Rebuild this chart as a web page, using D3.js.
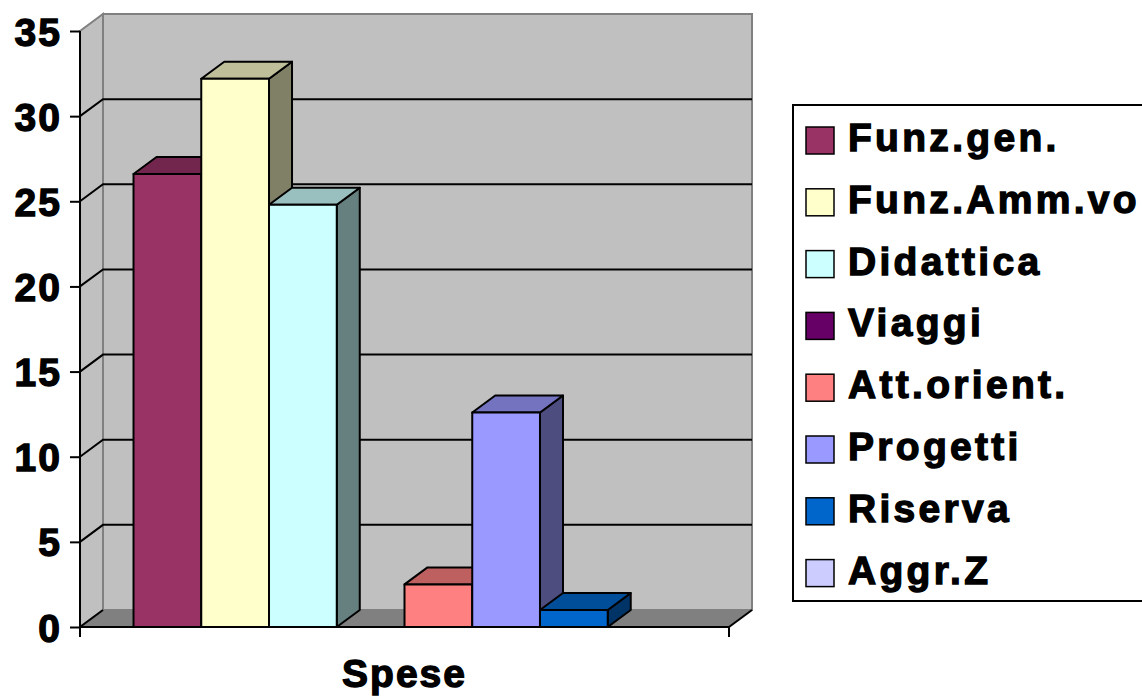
<!DOCTYPE html>
<html>
<head>
<meta charset="utf-8">
<script src="https://cdn.jsdelivr.net/npm/d3@7"></script>
<style>
  body { margin: 0; background: #fff; }
  text { font-family: "Liberation Sans", Arial, sans-serif; font-weight: bold; stroke: #000; stroke-width: 1.3px; }
</style>
</head>
<body>
<div id="chart"></div>
<script>
const categories = ["Funz.gen.", "Funz.Amm.vo", "Didattica", "Viaggi", "Att.orient.", "Progetti", "Riserva", "Aggr.Z"];
const values = [26.6, 32.2, 24.8, 0, 2.5, 12.6, 1.0, 0];
const colors = ["#993366", "#FFFFCC", "#CCFFFF", "#660066", "#FF8080", "#9999FF", "#0066CC", "#CCCCFF"];
const yTicks = [0, 5, 10, 15, 20, 25, 30, 35];
const groupLabel = "Spese";

const W = 1142, H = 697;
const dx = 23, dy = -17; // depth offset of the 3D box

const svg = d3.select("#chart").append("svg")
  .attr("width", W)
  .attr("height", H);

const y = d3.scaleLinear().domain([0, 35]).range([627, 31]);
const x = d3.scaleBand().domain(categories).range([80, 729])
  .paddingInner(0).paddingOuter(0.79);

const x0 = 80, x1 = 729;
const shade = (c, k) => {
  const r = d3.rgb(c);
  return d3.rgb(r.r * k, r.g * k, r.b * k).formatHex();
};

// walls and floor
const y0 = y(0), yTop = y(35);
svg.append("polygon")
  .attr("points", [[x0, yTop], [x0 + dx, yTop + dy], [x0 + dx, y0 + dy], [x0, y0]].join(" "))
  .attr("fill", "#c0c0c0").attr("stroke", "#808080").attr("stroke-width", 2);
svg.append("rect")
  .attr("x", x0 + dx).attr("y", yTop + dy)
  .attr("width", x1 - x0).attr("height", y0 - yTop)
  .attr("fill", "#c0c0c0").attr("stroke", "#808080").attr("stroke-width", 2);
svg.append("polygon")
  .attr("points", [[x0, y0], [x0 + dx, y0 + dy], [x1 + dx, y0 + dy], [x1, y0]].join(" "))
  .attr("fill", "#808080");

// gridlines on side + back wall
const grid = svg.append("g").attr("stroke", "#000").attr("stroke-width", 2).attr("fill", "none");
yTicks.filter(t => t > 0 && t < 35).forEach(t => {
  grid.append("polyline")
    .attr("points", [[x0, y(t)], [x0 + dx, y(t) + dy], [x1 + dx, y(t) + dy]].join(" "));
});
grid.append("line").attr("x1", x0).attr("y1", y0).attr("x2", x0 + dx).attr("y2", y0 + dy);
grid.append("line").attr("x1", x1).attr("y1", y0).attr("x2", x1 + dx).attr("y2", y0 + dy);

// bars
const bw = x.bandwidth();
const bars = svg.append("g").selectAll("g")
  .data(categories.map((c, i) => ({ c, v: values[i], col: colors[i] })).filter(d => d.v > 0))
  .enter().append("g")
  .attr("stroke", "#000").attr("stroke-width", 2).attr("stroke-linejoin", "round");

bars.append("polygon")
  .attr("points", d => {
    const l = x(d.c), r = l + bw, t = y(d.v);
    return [[r, t], [r + dx, t + dy], [r + dx, y0 + dy], [r, y0]].join(" ");
  })
  .attr("fill", d => shade(d.col, 0.5));
bars.append("polygon")
  .attr("points", d => {
    const l = x(d.c), r = l + bw, t = y(d.v);
    return [[l, t], [l + dx, t + dy], [r + dx, t + dy], [r, t]].join(" ");
  })
  .attr("fill", d => shade(d.col, 0.75));
bars.append("rect")
  .attr("x", d => x(d.c)).attr("y", d => y(d.v))
  .attr("width", bw).attr("height", d => y0 - y(d.v))
  .attr("fill", d => d.col);

// axes
const yAxis = svg.append("g")
  .attr("transform", `translate(${x0},0)`)
  .call(d3.axisLeft(y).tickValues(yTicks).tickSize(10).tickPadding(8));
yAxis.select(".domain").remove();
yAxis.selectAll(".tick line").attr("stroke", "#000").attr("stroke-width", 2);
yAxis.selectAll(".tick text")
  .attr("fill", "#000").style("font-size", "39px").style("letter-spacing", "2px")
  .attr("dy", "0.36em");

svg.append("line").attr("x1", x0).attr("y1", yTop).attr("x2", x0).attr("y2", y0 + 10)
  .attr("stroke", "#000").attr("stroke-width", 2);
svg.append("line").attr("x1", x0).attr("y1", y0).attr("x2", x1).attr("y2", y0)
  .attr("stroke", "#000").attr("stroke-width", 2);
svg.append("line").attr("x1", x1).attr("y1", y0).attr("x2", x1).attr("y2", y0 + 10)
  .attr("stroke", "#000").attr("stroke-width", 2);

svg.append("text")
  .attr("x", (x0 + x1) / 2).attr("y", 687)
  .attr("text-anchor", "middle")
  .style("font-size", "39px").style("letter-spacing", "2px")
  .text(groupLabel);

// legend
const legend = svg.append("g").attr("transform", "translate(793,105)");
legend.append("rect")
  .attr("width", 360).attr("height", 496)
  .attr("fill", "#fff").attr("stroke", "#000").attr("stroke-width", 2);

const items = legend.selectAll(".legend-item")
  .data(categories)
  .enter().append("g")
  .attr("class", "legend-item")
  .attr("transform", (d, i) => `translate(13, ${22 + i * 61.8})`);

items.append("rect")
  .attr("width", 28).attr("height", 27)
  .attr("fill", (d, i) => colors[i])
  .attr("stroke", "#000").attr("stroke-width", 1.5);

items.append("text")
  .attr("x", 42).attr("y", 24)
  .style("font-size", "39px").style("letter-spacing", "3.3px")
  .text(d => d);
</script>
</body>
</html>
